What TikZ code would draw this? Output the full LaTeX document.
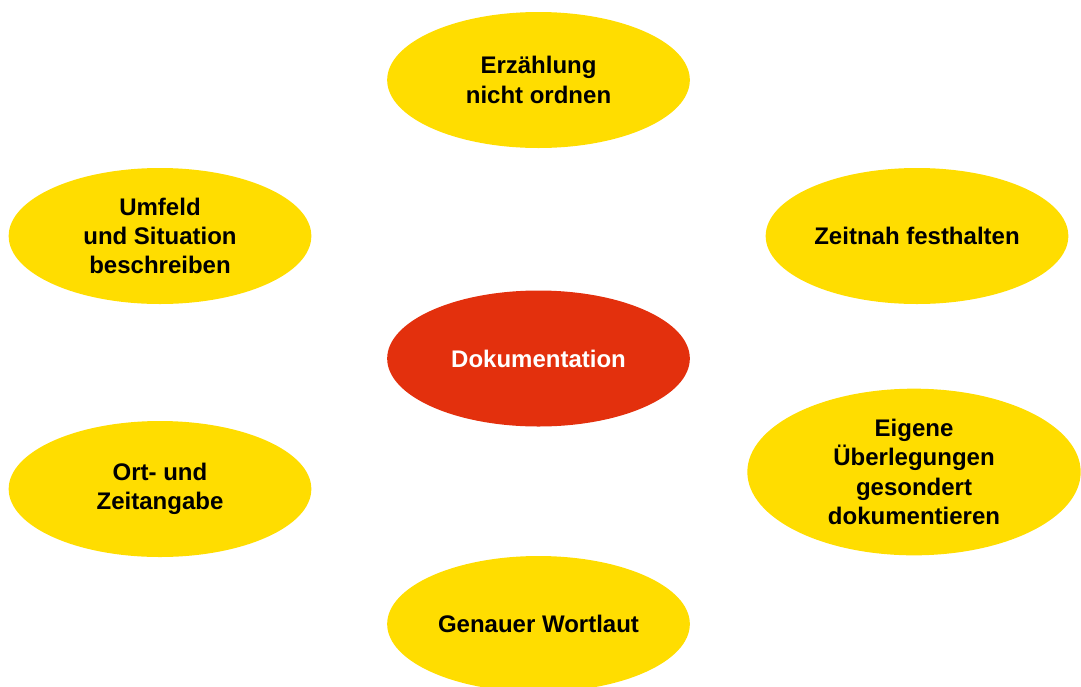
\documentclass[tikz,border=0pt]{standalone}
\usepackage{fontspec}
\setmainfont{Liberation Sans}
\usetikzlibrary{shapes.geometric}
\definecolor{gelb}{HTML}{FFDD00}
\definecolor{rot}{HTML}{E3300D}
\begin{document}
\begin{tikzpicture}[x=0.75pt,y=-0.75pt,
    font=\fontsize{18}{22}\selectfont\bfseries,
    blase/.style={ellipse,fill=gelb,text=black,align=center,inner sep=0pt,
                  minimum width=227pt,minimum height=102pt},
    kern/.style={blase,fill=rot,text=white}]
    \useasboundingbox (0,0) rectangle (1081,686);
    \node[kern]  (doku)   at (538.5,358.5) {Dokumentation};
    \node[blase] (erz)    at (538.5,80)    {Erzählung\\nicht ordnen};
    \node[blase] (umfeld) at (160,236)     {Umfeld\\und Situation\\beschreiben};
    \node[blase] (zeit)   at (917,236)     {Zeitnah festhalten};
    \node[blase] (ort)    at (160,489)     {Ort- und\\Zeitangabe};
    \node[blase, minimum width=250pt, minimum height=125pt]
                 (eigen)  at (914,472)     {Eigene\\Überlegungen\\gesondert\\dokumentieren};
    \node[blase] (wort)   at (538.5,624)   {Genauer Wortlaut};
\end{tikzpicture}
\end{document}
